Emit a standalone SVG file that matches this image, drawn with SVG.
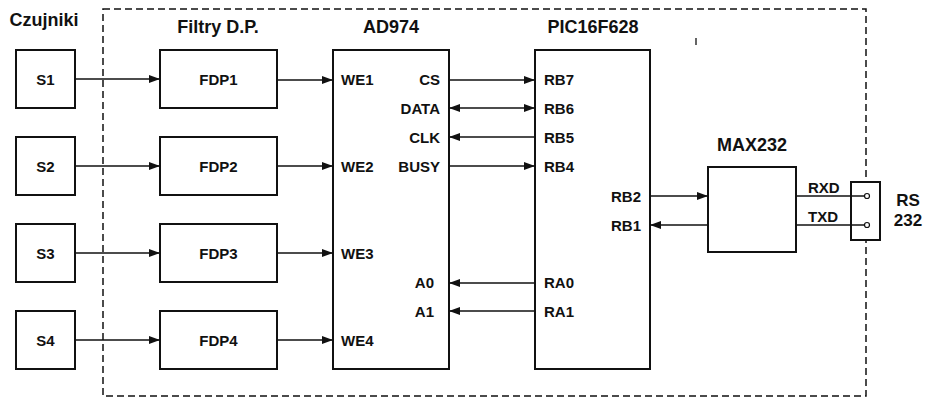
<svg xmlns="http://www.w3.org/2000/svg" width="926" height="398" viewBox="0 0 926 398">
<style>
.box{fill:#fff;stroke:#111;stroke-width:2}
.ln{fill:none;stroke:#111;stroke-width:1.3}
.dash{fill:none;stroke:#111;stroke-width:1.5;stroke-dasharray:7 4}
text{font-family:"Liberation Sans",Arial,sans-serif;font-weight:bold;fill:#111}
.t{font-size:18px;text-anchor:middle}
.n{font-size:15px;text-anchor:middle}
.p{font-size:15px}
.e{text-anchor:end}
</style>
<defs>
<marker id="ah" markerUnits="userSpaceOnUse" markerWidth="11" markerHeight="8" refX="11" refY="4" orient="auto-start-reverse" viewBox="0 0 11 8">
<path d="M0,0 L11,4 L0,8 z" fill="#111"/>
</marker>
</defs>
<rect class="dash" x="103" y="9" width="763" height="387"/>
<line class="ln" x1="696" y1="38" x2="696" y2="45" stroke-width="1.5"/>
<text class="t" x="44" y="26">Czujniki</text>
<text class="t" x="218" y="33">Filtry D.P.</text>
<text class="t" x="391" y="33">AD974</text>
<text class="t" x="593" y="33">PIC16F628</text>
<text class="t" x="752" y="151">MAX232</text>
<g id="s1"><rect class="box" x="16" y="50" width="59" height="58"/><text class="n" x="45.5" y="85">S1</text></g>
<g id="s2"><rect class="box" x="16" y="137" width="59" height="58"/><text class="n" x="45.5" y="172">S2</text></g>
<g id="s3"><rect class="box" x="16" y="224" width="59" height="58"/><text class="n" x="45.5" y="259">S3</text></g>
<g id="s4"><rect class="box" x="16" y="311" width="59" height="58"/><text class="n" x="45.5" y="346">S4</text></g>
<g id="fdp1"><rect class="box" x="160" y="50" width="117" height="58"/><text class="n" x="218.5" y="85">FDP1</text></g>
<g id="fdp2"><rect class="box" x="160" y="137" width="117" height="58"/><text class="n" x="218.5" y="172">FDP2</text></g>
<g id="fdp3"><rect class="box" x="160" y="224" width="117" height="58"/><text class="n" x="218.5" y="259">FDP3</text></g>
<g id="fdp4"><rect class="box" x="160" y="311" width="117" height="58"/><text class="n" x="218.5" y="346">FDP4</text></g>
<g id="ad974"><rect class="box" x="333" y="50" width="116" height="319"/>
<text class="p" x="341" y="85">WE1</text>
<text class="p" x="341" y="172">WE2</text>
<text class="p" x="341" y="259">WE3</text>
<text class="p" x="341" y="346">WE4</text>
<text class="p e" x="440" y="85">CS</text>
<text class="p e" x="440" y="114">DATA</text>
<text class="p e" x="440" y="143">CLK</text>
<text class="p e" x="440" y="172">BUSY</text>
<text class="p e" x="434" y="288">A0</text>
<text class="p e" x="434" y="317">A1</text>
</g>
<g id="pic"><rect class="box" x="535" y="50" width="115" height="319"/>
<text class="p" x="544" y="85">RB7</text>
<text class="p" x="544" y="114">RB6</text>
<text class="p" x="544" y="143">RB5</text>
<text class="p" x="544" y="172">RB4</text>
<text class="p e" x="641" y="202">RB2</text>
<text class="p e" x="641" y="231">RB1</text>
<text class="p" x="544" y="288">RA0</text>
<text class="p" x="544" y="317">RA1</text>
</g>
<g id="max232"><rect class="box" x="708" y="167" width="88" height="85"/>
<text class="p" x="808" y="193">RXD</text>
<text class="p" x="808" y="222">TXD</text>
</g>
<g id="rs232">
<rect class="box" x="851" y="182" width="29" height="58" stroke-width="1.5"/>
<circle cx="867" cy="196" r="2.5" fill="#fff" stroke="#111" stroke-width="1.2"/>
<circle cx="867" cy="225" r="2.5" fill="#fff" stroke="#111" stroke-width="1.2"/>
<text class="t" x="908" y="206" style="font-size:17px">RS</text>
<text class="t" x="908" y="226" style="font-size:17px">232</text>
</g>
<g id="connectors">
<line class="ln" x1="75" y1="79" x2="160" y2="79" marker-end="url(#ah)"/>
<line class="ln" x1="75" y1="166" x2="160" y2="166" marker-end="url(#ah)"/>
<line class="ln" x1="75" y1="253" x2="160" y2="253" marker-end="url(#ah)"/>
<line class="ln" x1="75" y1="340" x2="160" y2="340" marker-end="url(#ah)"/>
<line class="ln" x1="277" y1="80" x2="333" y2="80" marker-end="url(#ah)"/>
<line class="ln" x1="277" y1="166" x2="333" y2="166" marker-end="url(#ah)"/>
<line class="ln" x1="277" y1="253" x2="333" y2="253" marker-end="url(#ah)"/>
<line class="ln" x1="277" y1="340" x2="333" y2="340" marker-end="url(#ah)"/>
<line class="ln" x1="449" y1="80" x2="535" y2="80" marker-end="url(#ah)"/>
<line class="ln" x1="449" y1="108" x2="535" y2="108" marker-start="url(#ah)" marker-end="url(#ah)"/>
<line class="ln" x1="535" y1="137" x2="449" y2="137" marker-end="url(#ah)"/>
<line class="ln" x1="449" y1="166" x2="535" y2="166" marker-end="url(#ah)"/>
<line class="ln" x1="535" y1="283" x2="449" y2="283" marker-end="url(#ah)"/>
<line class="ln" x1="535" y1="311" x2="449" y2="311" marker-end="url(#ah)"/>
<line class="ln" x1="650" y1="196" x2="708" y2="196" marker-end="url(#ah)"/>
<line class="ln" x1="708" y1="225" x2="650" y2="225" marker-end="url(#ah)"/>
<line class="ln" x1="796" y1="196" x2="864.5" y2="196"/>
<line class="ln" x1="796" y1="225" x2="864.5" y2="225"/>
</g>
</svg>
